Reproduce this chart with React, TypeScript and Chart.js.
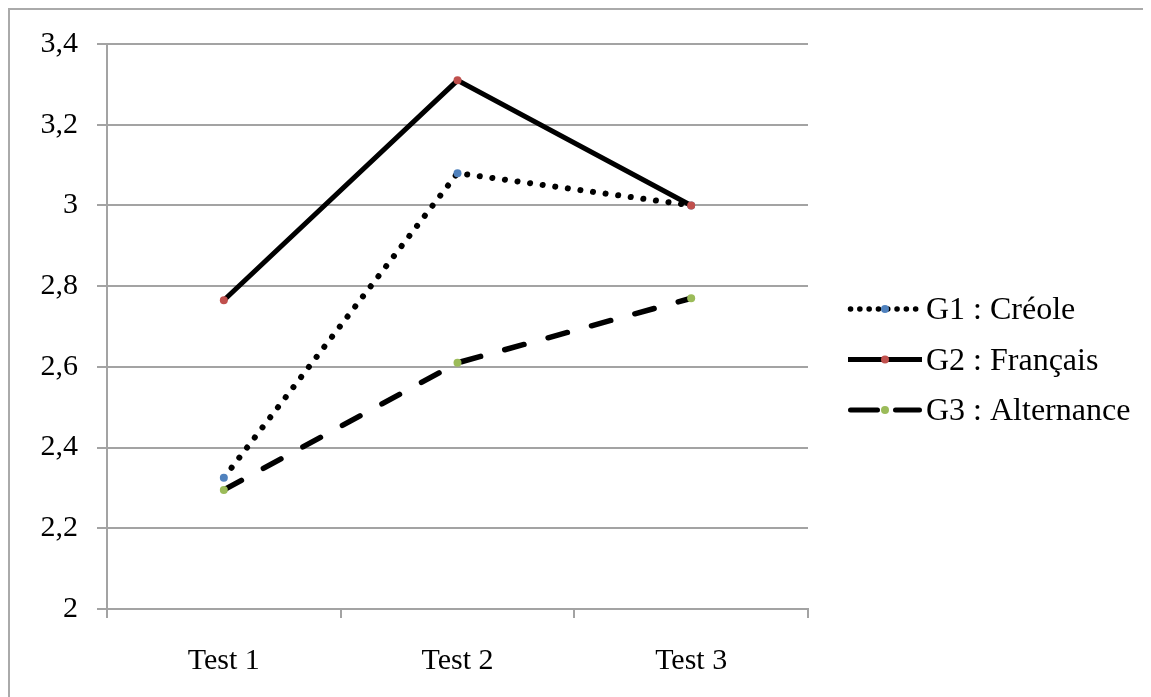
import React, { useEffect, useRef } from "react";
import { Chart, registerables } from "chart.js";

Chart.register(...registerables);

const categories = ["Test 1", "Test 2", "Test 3"];
const g1Values = [2.325, 3.08, 3.0];
const g2Values = [2.765, 3.31, 3.0];
const g3Values = [2.295, 2.61, 2.77];
const yTickLabels = ["2", "2,2", "2,4", "2,6", "2,8", "3", "3,2", "3,4"];
const seriesNames = ["G1 : Créole", "G2 : Français", "G3 : Alternance"];
const pointColors = ["#4F81BD", "#C0504D", "#9BBB59"];

const FONT = "'Liberation Serif', 'DejaVu Serif', serif";
const GRID = "#a3a3a3";

const legendPlugin = {
  id: "customLegend",
  afterDraw(chart: any) {
    const { ctx, chartArea } = chart;
    const x0 = chartArea.right + 40;
    const lineLen = 74;
    const y0 = chartArea.top + 265;
    const gap = 50.5;
    const dashes = [[0.1, 9.2], [], [27, 18]];
    ctx.save();
    seriesNames.forEach((name, i) => {
      const y = y0 + i * gap;
      ctx.beginPath();
      ctx.strokeStyle = "#000";
      ctx.lineWidth = i === 0 ? 5.5 : 5;
      ctx.lineCap = i === 1 ? "butt" : "round";
      ctx.setLineDash(dashes[i]);
      ctx.moveTo(x0 + (i === 1 ? 0 : 2.5), y);
      ctx.lineTo(x0 + lineLen - (i === 1 ? 0 : 2.5), y);
      ctx.stroke();
      ctx.setLineDash([]);
      ctx.beginPath();
      ctx.fillStyle = pointColors[i];
      ctx.arc(x0 + lineLen / 2, y, 4, 0, Math.PI * 2);
      ctx.fill();
      ctx.fillStyle = "#000";
      ctx.font = `32px ${FONT}`;
      ctx.textBaseline = "middle";
      ctx.textAlign = "left";
      ctx.fillText(name, x0 + lineLen + 4, y + 2);
    });
    ctx.restore();
  },
};

export default function App() {
  const canvasRef = useRef<HTMLCanvasElement | null>(null);

  useEffect(() => {
    document.documentElement.style.overflow = "hidden";
    document.body.style.overflow = "hidden";
    if (!canvasRef.current) return;
    const mk = (i: number, data: number[], dash: number[], width: number, order: number) => ({
      label: seriesNames[i],
      data,
      borderColor: "#000",
      borderWidth: width,
      borderDash: dash,
      borderCapStyle: dash.length ? "round" : "butt",
      pointRadius: 4,
      pointBorderWidth: 0,
      pointBackgroundColor: pointColors[i],
      pointHoverRadius: 4,
      tension: 0,
      fill: false,
      order,
    });
    const chart = new Chart(canvasRef.current, {
      type: "line",
      data: {
        labels: categories,
        datasets: [
          mk(0, g1Values, [0.1, 12.6], 6, 3),
          mk(1, g2Values, [], 5, 1),
          mk(2, g3Values, [20, 25], 5.5, 2),
        ] as any,
      },
      options: {
        animation: false,
        responsive: true,
        maintainAspectRatio: false,
        layout: { padding: { top: 30, right: 343, left: 0, bottom: 0 } },
        plugins: {
          legend: { display: false },
          tooltip: { enabled: false },
        },
        scales: {
          x: {
            type: "category",
            offset: true,
            grid: {
              offset: true,
              drawOnChartArea: false,
              drawTicks: true,
              tickLength: 9,
              color: GRID,
              lineWidth: 2,
            },
            border: { display: true, color: GRID, width: 2 },
            ticks: { color: "#000", font: { family: FONT, size: 30 }, padding: 25 },
            afterFit: (s: any) => {
              s.height = 78;
            },
          },
          y: {
            min: 2,
            max: 3.4,
            ticks: {
              stepSize: 0.2,
              color: "#000",
              font: { family: FONT, size: 30, lineHeight: 1 },
              padding: 19,
              callback: (_v: any, i: number) => yTickLabels[i],
            },
            grid: { color: GRID, lineWidth: 2, tickLength: 10, drawTicks: true },
            border: { display: true, color: GRID, width: 2 },
            afterFit: (s: any) => {
              s.width = 97;
            },
          },
        },
      } as any,
      plugins: [legendPlugin],
    });
    return () => chart.destroy();
  }, []);

  return (
    <div
      style={{
        position: "relative",
        width: 1141,
        height: 677,
        paddingBottom: 20,
        borderLeft: "2px solid #aaaaaa",
        borderTop: "2px solid #aaaaaa",
        background: "#fff",
      }}
    >
      <div style={{ position: "relative", width: 1141, height: 677 }}>
        <canvas ref={canvasRef} />
      </div>
    </div>
  );
}
